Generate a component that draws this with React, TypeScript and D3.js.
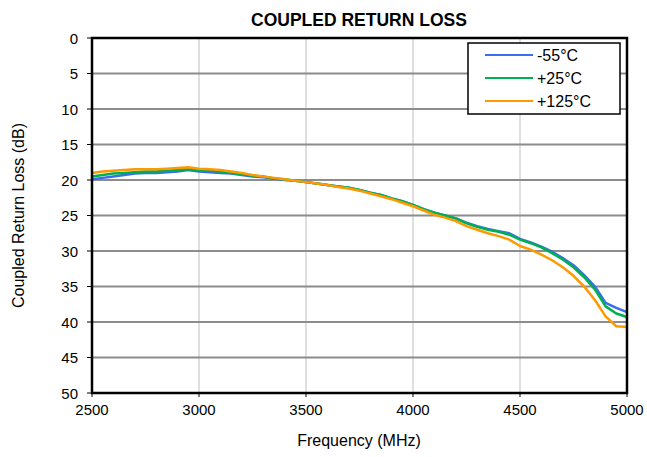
import React from "react";
import * as d3 from "d3";

const frequencies = [
  2500, 2550, 2600, 2650, 2700, 2750, 2800, 2850, 2900, 2950,
  3000, 3050, 3100, 3150, 3200, 3250, 3300, 3350, 3400, 3450,
  3500, 3550, 3600, 3650, 3700, 3750, 3800, 3850, 3900, 3950,
  4000, 4050, 4100, 4150, 4200, 4250, 4300, 4350, 4400, 4450,
  4500, 4550, 4600, 4650, 4700, 4750, 4800, 4850, 4900, 4950, 5000,
];

const lossMinus55 = [
  19.9, 19.7, 19.5, 19.3, 19.1, 19.0, 19.0, 18.9, 18.8, 18.6,
  18.8, 18.9, 19.0, 19.1, 19.3, 19.5, 19.6, 19.8, 20.0, 20.1,
  20.3, 20.5, 20.7, 20.9, 21.1, 21.4, 21.8, 22.1, 22.6, 23.0,
  23.5, 24.1, 24.6, 25.0, 25.4, 26.0, 26.5, 26.9, 27.2, 27.5,
  28.3, 28.8, 29.4, 30.1, 31.0, 32.0, 33.4, 35.0, 37.3, 38.0, 38.6,
];

const lossPlus25 = [
  19.5, 19.3, 19.1, 19.0, 18.9, 18.8, 18.8, 18.7, 18.6, 18.5,
  18.6, 18.7, 18.8, 19.0, 19.2, 19.4, 19.5, 19.8, 19.9, 20.1,
  20.3, 20.5, 20.7, 20.9, 21.1, 21.4, 21.8, 22.1, 22.6, 23.0,
  23.5, 24.1, 24.6, 25.0, 25.4, 26.1, 26.6, 27.0, 27.3, 27.7,
  28.4, 28.9, 29.5, 30.3, 31.2, 32.3, 33.7, 35.4, 37.8, 38.8, 39.3,
];

const lossPlus125 = [
  19.0, 18.8, 18.7, 18.6, 18.5, 18.5, 18.5, 18.4, 18.3, 18.2,
  18.4, 18.5, 18.6, 18.8, 19.0, 19.3, 19.5, 19.7, 19.9, 20.1,
  20.3, 20.5, 20.7, 21.0, 21.2, 21.5, 21.9, 22.3, 22.7, 23.2,
  23.7, 24.3, 24.9, 25.3, 25.8, 26.5, 27.0, 27.5, 27.9, 28.4,
  29.3, 29.8, 30.5, 31.3, 32.3, 33.5, 35.0, 36.9, 39.2, 40.6, 40.7,
];

const seriesNames = ["-55°C", "+25°C", "+125°C"];
const seriesColors = ["#3a6df0", "#00b050", "#ff9900"];
const seriesValues = [lossMinus55, lossPlus25, lossPlus125];

const xTicks = [2500, 3000, 3500, 4000, 4500, 5000];
const yTicks = [0, 5, 10, 15, 20, 25, 30, 35, 40, 45, 50];

const W = 647;
const H = 457;
const plot = { left: 92, right: 627, top: 38, bottom: 393 };
const font = "Liberation Sans, Arial, sans-serif";

export default function App() {
  const x = d3.scaleLinear().domain([2500, 5000]).range([plot.left, plot.right]);
  const y = d3.scaleLinear().domain([0, 50]).range([plot.top, plot.bottom]);

  const line = d3
    .line<[number, number]>()
    .x((d) => x(d[0]))
    .y((d) => y(d[1]));

  const legend = { x: 468, y: 43, w: 152, h: 71 };

  return (
    <svg
      width={W}
      height={H}
      style={{ position: "absolute", left: 0, top: 0, background: "#fff" }}
      fontFamily={font}
    >
      <rect width={W} height={H} fill="#fff" />
      <text x={359} y={26} textAnchor="middle" fontSize={17.5} fontWeight="bold">
        COUPLED RETURN LOSS
      </text>

      {/* vertical gridlines */}
      {xTicks.slice(1, -1).map((t) => (
        <line key={"vx" + t} x1={x(t)} x2={x(t)} y1={plot.top} y2={plot.bottom} stroke="#d4d4d4" strokeWidth={1.5} />
      ))}
      {/* horizontal gridlines */}
      {yTicks.slice(1, -1).map((t) => (
        <line key={"hy" + t} x1={plot.left} x2={plot.right} y1={y(t)} y2={y(t)} stroke="#8c8c8c" strokeWidth={2} />
      ))}

      {/* series */}
      {seriesValues.map((vals, i) => (
        <path
          key={seriesNames[i]}
          d={line(frequencies.map((f, j) => [f, vals[j]] as [number, number])) || ""}
          fill="none"
          stroke={seriesColors[i]}
          strokeWidth={2.5}
          strokeLinejoin="round"
        />
      ))}

      {/* frame */}
      <rect
        x={plot.left}
        y={plot.top}
        width={plot.right - plot.left}
        height={plot.bottom - plot.top}
        fill="none"
        stroke="#000"
        strokeWidth={2.5}
      />

      {/* y ticks */}
      {yTicks.map((t) => (
        <g key={"yt" + t}>
          <line x1={plot.left - 5} x2={plot.left} y1={y(t)} y2={y(t)} stroke="#000" strokeWidth={1} />
          <text x={plot.left - 14} y={y(t) + 5.5} textAnchor="end" fontSize={15}>
            {t}
          </text>
        </g>
      ))}
      {/* x ticks */}
      {xTicks.map((t) => (
        <g key={"xt" + t}>
          <line x1={x(t)} x2={x(t)} y1={plot.bottom} y2={plot.bottom + 4} stroke="#000" strokeWidth={1} />
          <text x={x(t)} y={plot.bottom + 22} textAnchor="middle" fontSize={15}>
            {t}
          </text>
        </g>
      ))}

      <text x={359} y={446} textAnchor="middle" fontSize={16}>
        Frequency (MHz)
      </text>
      <text
        transform={`translate(24,${(plot.top + plot.bottom) / 2}) rotate(-90)`}
        textAnchor="middle"
        fontSize={16}
      >
        Coupled Return Loss (dB)
      </text>

      {/* legend */}
      <rect x={legend.x} y={legend.y} width={legend.w} height={legend.h} fill="#fff" stroke="#000" strokeWidth={1.5} />
      {seriesNames.map((name, i) => {
        const ly = legend.y + 12 + i * 23;
        return (
          <g key={"lg" + name}>
            <line x1={485} x2={533} y1={ly} y2={ly} stroke={seriesColors[i]} strokeWidth={2} />
            <text x={537} y={ly + 6} fontSize={16}>
              {name}
            </text>
          </g>
        );
      })}
    </svg>
  );
}
